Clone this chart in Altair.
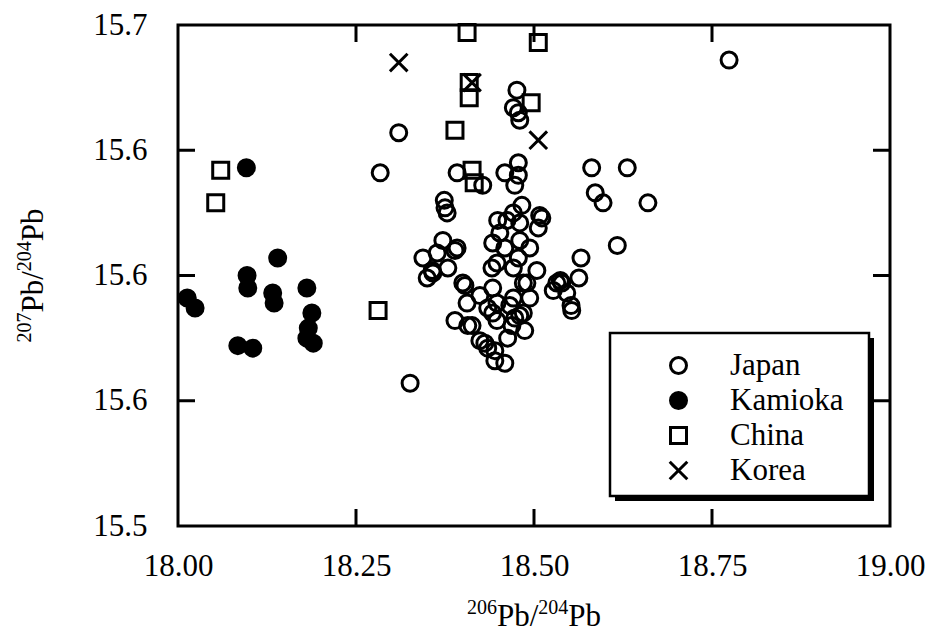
import altair as alt
import pandas as pd

# ---- data ----
japan_x = [18.774, 18.310, 18.284, 18.476, 18.471, 18.478, 18.480, 18.392, 18.428, 18.459,
           18.478, 18.478, 18.473, 18.581, 18.631, 18.586, 18.597, 18.660, 18.617, 18.374,
           18.375, 18.378, 18.483, 18.471, 18.462, 18.480, 18.508, 18.506, 18.452, 18.372,
           18.392, 18.364, 18.344, 18.379, 18.357, 18.350, 18.442, 18.459, 18.480, 18.494,
           18.478, 18.441, 18.471, 18.504, 18.490, 18.566, 18.563, 18.532, 18.527, 18.546,
           18.552, 18.403, 18.424, 18.406, 18.442, 18.448, 18.471, 18.389, 18.407, 18.442,
           18.466, 18.480, 18.487, 18.424, 18.435, 18.445, 18.463, 18.459, 18.326, 18.494,
           18.537, 18.473, 18.469, 18.485, 18.431, 18.358, 18.389, 18.400, 18.413, 18.435,
           18.448, 18.448, 18.485, 18.539, 18.553, 18.445, 18.449, 18.511]
japan_y = [15.686, 15.657, 15.641, 15.674, 15.667, 15.665, 15.662, 15.641, 15.636, 15.641,
           15.645, 15.640, 15.636, 15.643, 15.643, 15.633, 15.629, 15.629, 15.612, 15.630,
           15.627, 15.625, 15.628, 15.625, 15.622, 15.621, 15.624, 15.619, 15.617, 15.614,
           15.611, 15.609, 15.607, 15.603, 15.602, 15.599, 15.613, 15.611, 15.614, 15.611,
           15.607, 15.603, 15.603, 15.602, 15.597, 15.607, 15.599, 15.597, 15.594, 15.593,
           15.588, 15.596, 15.592, 15.589, 15.595, 15.589, 15.591, 15.582, 15.580, 15.585,
           15.588, 15.584, 15.578, 15.574, 15.571, 15.570, 15.575, 15.565, 15.557, 15.591,
           15.598, 15.583, 15.580, 15.585, 15.573, 15.601, 15.610, 15.597, 15.580, 15.587,
           15.582, 15.605, 15.597, 15.597, 15.586, 15.566, 15.622, 15.623]

kamioka_x = [18.096, 18.013, 18.024, 18.097, 18.098, 18.140, 18.133, 18.135, 18.181, 18.188,
             18.183, 18.181, 18.190, 18.084, 18.105]
kamioka_y = [15.643, 15.591, 15.587, 15.600, 15.595, 15.607, 15.593, 15.589, 15.595, 15.585,
             15.579, 15.575, 15.573, 15.572, 15.571]

china_x = [18.060, 18.053, 18.406, 18.506, 18.409, 18.409, 18.496, 18.389, 18.413, 18.416, 18.281]
china_y = [15.642, 15.629, 15.697, 15.693, 15.677, 15.671, 15.669, 15.658, 15.642, 15.637, 15.586]

korea_x = [18.310, 18.413, 18.506]
korea_y = [15.685, 15.677, 15.654]

groups = ["Japan", "Kamioka", "China", "Korea"]

x_tick_values = [18.00, 18.25, 18.50, 18.75, 19.00]
y_tick_values = [15.50, 15.55, 15.60, 15.65, 15.70]
y_tick_labels = ["15.5", "15.6", "15.6", "15.6", "15.7"]
x_inner_ticks = [18.25, 18.50, 18.75]
y_inner_ticks = [15.55, 15.60, 15.65]

# axis titles: (text, is_superscript) pieces
x_title_parts = [("206", True), ("Pb/", False), ("204", True), ("Pb", False)]
y_title_parts = [("207", True), ("Pb/", False), ("204", True), ("Pb", False)]

# ---- build tables ----
rows = []
for g, xs, ys in [("Japan", japan_x, japan_y), ("Kamioka", kamioka_x, kamioka_y),
                  ("China", china_x, china_y), ("Korea", korea_x, korea_y)]:
    for a, b in zip(xs, ys):
        rows.append({"x": a, "y": b, "group": g})
df = pd.DataFrame(rows)

ylab_expr = "''"
for v, l in zip(y_tick_values, y_tick_labels):
    ylab_expr = f"abs(datum.value - {v}) < 1e-6 ? '{l}' : ({ylab_expr})"

FONT = "Liberation Serif"
FS = 31
SUP = 20
W, H = 712, 501

xscale = alt.Scale(domain=[18, 19], nice=False, zero=False)
yscale = alt.Scale(domain=[15.5, 15.7], nice=False, zero=False)

xaxis = alt.Axis(values=x_tick_values, format=".2f", ticks=False, tickSize=0, domain=False,
                 grid=False, labelFont=FONT, labelFontSize=FS, labelColor="black",
                 labelPadding=25, title=None, labelFlush=False, labelOverlap=False)
yaxis = alt.Axis(values=y_tick_values, labelExpr=ylab_expr, ticks=False, tickSize=0, domain=False,
                 grid=False, labelFont=FONT, labelFontSize=FS, labelColor="black",
                 labelPadding=31, title=None, labelFlush=False, labelOverlap=False)

one = pd.DataFrame({"a": [0]})

shadow = alt.Chart(one).mark_rect(fill="black").encode(
    x=alt.value(437), x2=alt.value(696), y=alt.value(313), y2=alt.value(476))
box = alt.Chart(one).mark_rect(fill="white", stroke="black", strokeWidth=2.5).encode(
    x=alt.value(432), x2=alt.value(691), y=alt.value(308), y2=alt.value(471))

x_path = "M-1.1,-1.1L1.1,1.1M-1.1,1.1L1.1,-1.1"

leg = alt.Legend(title=None, symbolStrokeColor="black")
points = alt.Chart(df).mark_point(filled=True, size=256, opacity=1).encode(
    x=alt.X("x:Q", scale=xscale, axis=xaxis),
    y=alt.Y("y:Q", scale=yscale, axis=yaxis),
    fill=alt.Fill("group:N", scale=alt.Scale(domain=groups,
                  range=["transparent", "black", "transparent", "transparent"]),
                  legend=leg),
    stroke=alt.Stroke("group:N", scale=alt.Scale(domain=groups,
                      range=["black", "black", "black", "black"]), legend=leg),
    strokeWidth=alt.StrokeWidth("group:N", scale=alt.Scale(domain=groups,
                                range=[3, 3, 3, 4]), legend=leg),
    shape=alt.Shape("group:N", scale=alt.Scale(domain=groups,
                    range=["circle", "circle", "square", x_path]), legend=leg),
)

xt = pd.DataFrame({"x": x_inner_ticks})
yt = pd.DataFrame({"y": y_inner_ticks})
tick_bottom = alt.Chart(xt).mark_rule(color="black", strokeWidth=3).encode(
    x=alt.X("x:Q", scale=xscale), y=alt.value(H), y2=alt.value(H - 17))
tick_top = alt.Chart(xt).mark_rule(color="black", strokeWidth=3).encode(
    x=alt.X("x:Q", scale=xscale), y=alt.value(0), y2=alt.value(17))
tick_left = alt.Chart(yt).mark_rule(color="black", strokeWidth=3).encode(
    y=alt.Y("y:Q", scale=yscale), x=alt.value(0), x2=alt.value(17))
tick_right = alt.Chart(yt).mark_rule(color="black", strokeWidth=3).encode(
    y=alt.Y("y:Q", scale=yscale), x=alt.value(W), x2=alt.value(W - 17))


def width_of(text, size):
    w = 0.0
    for ch in text:
        w += {"P": 0.556, "b": 0.5, "/": 0.278}.get(ch, 0.5)
    return w * size


def title_layers(parts, horizontal):
    layers = []
    total = sum(width_of(t, SUP if s else FS) for t, s in parts)
    if horizontal:
        pos = W / 2 - total / 2
        base = H + 100
    else:
        pos = H / 2 + total / 2
        base = -135
    for text, sup in parts:
        size = SUP if sup else FS
        w = width_of(text, size)
        if horizontal:
            enc = dict(x=alt.value(pos), y=alt.value(base - (12 if sup else 0)))
            mk = alt.Chart(one).mark_text(text=text, font=FONT, fontSize=size, align="left",
                                          baseline="alphabetic", color="black")
            pos += w
        else:
            enc = dict(x=alt.value(base - (12 if sup else 0)), y=alt.value(pos))
            mk = alt.Chart(one).mark_text(text=text, font=FONT, fontSize=size, align="left",
                                          baseline="alphabetic", angle=270, color="black")
            pos -= w
        layers.append(mk.encode(**enc))
    return layers


chart = alt.layer(
    shadow, box, points, tick_bottom, tick_top, tick_left, tick_right,
    *title_layers(x_title_parts, True), *title_layers(y_title_parts, False)
).properties(
    width=W, height=H,
    background="white",
    autosize=alt.AutoSizeParams(type="none"),
    padding={"left": 178, "top": 25, "right": 44, "bottom": 107},
).configure_view(
    stroke="black", strokeWidth=3
).configure_legend(
    orient="none", legendX=485, legendY=325, padding=0, labelFont=FONT, labelFontSize=FS,
    labelColor="black", symbolSize=256, symbolStrokeColor="black",
    rowPadding=3, labelOffset=36, symbolOpacity=1
)

chart.save("out.html", embed_options={"renderer": "svg", "actions": False})
